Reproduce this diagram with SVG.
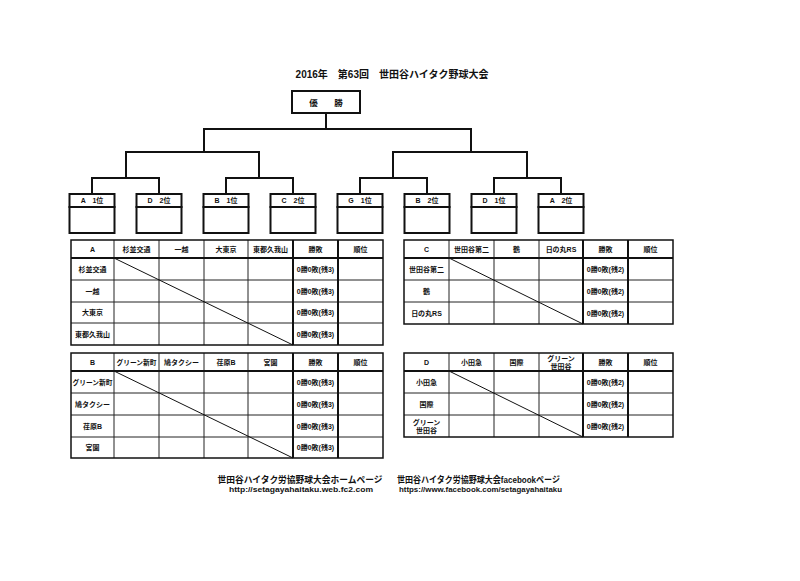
<svg xmlns="http://www.w3.org/2000/svg" width="800" height="581" viewBox="0 0 800 581">
<style>
text{font-family:"Liberation Sans","Noto Sans CJK JP",sans-serif;font-weight:bold;fill:#111;text-anchor:middle}
.t7{font-size:7px}
.box{fill:#fff;stroke:#111;stroke-width:2}
.ln{fill:none;stroke:#111;stroke-width:2;stroke-linecap:square}
.grid{fill:none;stroke:#222;stroke-width:1}
.thick{fill:none;stroke:#111;stroke-width:2}
.outer{fill:none;stroke:#111;stroke-width:1.5}
.diag{stroke:#111;stroke-width:1}
</style>
<rect width="800" height="581" fill="#fff"/>
<g id="title"><text x="392" y="78" style="font-size:10px">2016年　第63回　世田谷ハイタク野球大会</text></g>
<g id="winner"><rect class="box" x="292" y="91" width="68" height="22"/><text x="328" y="105.5" style="font-size:8.5px;letter-spacing:4px">優　勝</text></g>
<g id="connectors">
<path class="ln" d="M326,113V129"/>
<path class="ln" d="M204,152V129H471V152"/>
<path class="ln" d="M126,178V152H259V178"/>
<path class="ln" d="M393,178V152H527V178"/>
<path class="ln" d="M92,194V178H159V194"/>
<path class="ln" d="M226,194V178H293V194"/>
<path class="ln" d="M360,194V178H427V194"/>
<path class="ln" d="M494,194V178H561V194"/>
</g>
<g id="seed-a1"><rect class="box" x="69.5" y="194" width="45" height="39"/><path class="ln" d="M69.5,207H114.5"/><text class="t7" x="92" y="203">A　1位</text></g>
<g id="seed-d2"><rect class="box" x="136.5" y="194" width="45" height="39"/><path class="ln" d="M136.5,207H181.5"/><text class="t7" x="159" y="203">D　2位</text></g>
<g id="seed-b1"><rect class="box" x="203.5" y="194" width="45" height="39"/><path class="ln" d="M203.5,207H248.5"/><text class="t7" x="226" y="203">B　1位</text></g>
<g id="seed-c2"><rect class="box" x="270.5" y="194" width="45" height="39"/><path class="ln" d="M270.5,207H315.5"/><text class="t7" x="293" y="203">C　2位</text></g>
<g id="seed-g1"><rect class="box" x="337.5" y="194" width="45" height="39"/><path class="ln" d="M337.5,207H382.5"/><text class="t7" x="360" y="203">G　1位</text></g>
<g id="seed-b2"><rect class="box" x="404.5" y="194" width="45" height="39"/><path class="ln" d="M404.5,207H449.5"/><text class="t7" x="427" y="203">B　2位</text></g>
<g id="seed-d1"><rect class="box" x="471.5" y="194" width="45" height="39"/><path class="ln" d="M471.5,207H516.5"/><text class="t7" x="494" y="203">D　1位</text></g>
<g id="seed-a2"><rect class="box" x="538.5" y="194" width="45" height="39"/><path class="ln" d="M538.5,207H583.5"/><text class="t7" x="561" y="203">A　2位</text></g>

<g id="table-a">
<path class="grid" d="M114,240V345M159,240V345M204,240V345M248,240V345M71,280H383M71,302H383M71,323H383"/>
<path class="thick" d="M293,240V345M338,240V345M71,258H383"/>
<rect class="outer" x="71" y="240" width="312" height="105"/>
<line class="diag" x1="114" y1="258" x2="293" y2="345"/>
<g class="t7">
<text x="92.5" y="251.5">A</text><text x="136.5" y="251.5">杉並交通</text><text x="181.5" y="251.5">一越</text><text x="226" y="251.5">大東京</text><text x="270.5" y="251.5">東都久我山</text><text x="315.5" y="251.5">勝敗</text><text x="360.5" y="251.5">順位</text>
<text x="92.5" y="271.5">杉並交通</text><text x="92.5" y="293.5">一越</text><text x="92.5" y="315">大東京</text><text x="92.5" y="336.5">東都久我山</text>
<text x="315.5" y="271.5">0勝0敗(残3)</text><text x="315.5" y="293.5">0勝0敗(残3)</text><text x="315.5" y="315">0勝0敗(残3)</text><text x="315.5" y="336.5">0勝0敗(残3)</text>
</g>
</g>

<g id="table-c">
<path class="grid" d="M449,240V324M494,240V324M539,240V324M404,280H673M404,302H673"/>
<path class="thick" d="M583,240V324M628,240V324M404,258H673"/>
<rect class="outer" x="404" y="240" width="269" height="84"/>
<line class="diag" x1="449" y1="258" x2="583" y2="324"/>
<g class="t7">
<text x="426.5" y="251.5">C</text><text x="471.5" y="251.5">世田谷第二</text><text x="516.5" y="251.5">鶴</text><text x="561" y="251.5">日の丸RS</text><text x="605.5" y="251.5">勝敗</text><text x="650.5" y="251.5">順位</text>
<text x="426.5" y="271.5">世田谷第二</text><text x="426.5" y="293.5">鶴</text><text x="426.5" y="315.5">日の丸RS</text>
<text x="605.5" y="271.5">0勝0敗(残2)</text><text x="605.5" y="293.5">0勝0敗(残2)</text><text x="605.5" y="315.5">0勝0敗(残2)</text>
</g>
</g>

<g id="table-b">
<path class="grid" d="M114,353V458M159,353V458M204,353V458M248,353V458M71,393H383M71,415H383M71,437H383"/>
<path class="thick" d="M293,353V458M338,353V458M71,371H383"/>
<rect class="outer" x="71" y="353" width="312" height="105"/>
<line class="diag" x1="114" y1="371" x2="293" y2="458"/>
<g class="t7">
<text x="92.5" y="364.5">B</text><text x="136.5" y="364.5" textLength="40" lengthAdjust="spacingAndGlyphs">グリーン新町</text><text x="181.5" y="364.5">鳩タクシー</text><text x="226" y="364.5">荏原B</text><text x="270.5" y="364.5">宮園</text><text x="315.5" y="364.5">勝敗</text><text x="360.5" y="364.5">順位</text>
<text x="92.5" y="384.5" textLength="40" lengthAdjust="spacingAndGlyphs">グリーン新町</text><text x="92.5" y="406.5">鳩タクシー</text><text x="92.5" y="428.5">荏原B</text><text x="92.5" y="450">宮園</text>
<text x="315.5" y="384.5">0勝0敗(残3)</text><text x="315.5" y="406.5">0勝0敗(残3)</text><text x="315.5" y="428.5">0勝0敗(残3)</text><text x="315.5" y="450">0勝0敗(残3)</text>
</g>
</g>

<g id="table-d">
<path class="grid" d="M449,353V437M494,353V437M539,353V437M404,393H673M404,415H673"/>
<path class="thick" d="M583,353V437M628,353V437M404,371H673"/>
<rect class="outer" x="404" y="353" width="269" height="84"/>
<line class="diag" x1="449" y1="371" x2="583" y2="437"/>
<g class="t7">
<text x="426.5" y="364.5">D</text><text x="471.5" y="364.5">小田急</text><text x="516.5" y="364.5">国際</text><text x="561" y="361">グリーン</text><text x="561" y="368.5">世田谷</text><text x="605.5" y="364.5">勝敗</text><text x="650.5" y="364.5">順位</text>
<text x="426.5" y="384.5">小田急</text><text x="426.5" y="406.5">国際</text><text x="426.5" y="424.5">グリーン</text><text x="426.5" y="432.5">世田谷</text>
<text x="605.5" y="384.5">0勝0敗(残2)</text><text x="605.5" y="406.5">0勝0敗(残2)</text><text x="605.5" y="428.5">0勝0敗(残2)</text>
</g>
</g>

<g id="footer">
<text x="300" y="483" style="font-size:9px" textLength="165" lengthAdjust="spacingAndGlyphs">世田谷ハイタク労協野球大会ホームページ</text>
<text x="301" y="491.5" style="font-size:8px" textLength="144" lengthAdjust="spacingAndGlyphs">http://setagayahaitaku.web.fc2.com</text>
<text x="478.5" y="483" style="font-size:9px" textLength="163" lengthAdjust="spacingAndGlyphs">世田谷ハイタク労協野球大会facebookページ</text>
<text x="480.5" y="491.5" style="font-size:8px" textLength="163" lengthAdjust="spacingAndGlyphs">https://www.facebook.com/setagayahaitaku</text>
</g>
</svg>
